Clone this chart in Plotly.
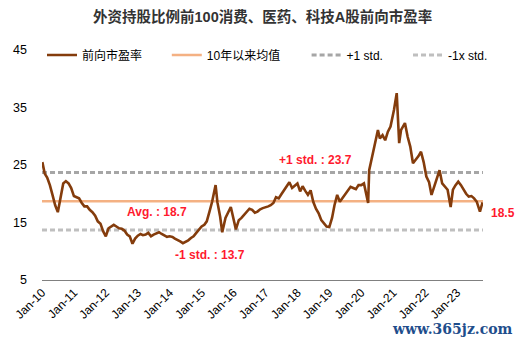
import plotly.graph_objects as go

dates = [
    "2010-01-05","2010-02-01","2010-03-01","2010-04-01","2010-05-01","2010-06-01","2010-07-01","2010-08-01","2010-09-01","2010-10-01","2010-11-01","2010-12-01",
    "2011-01-01","2011-02-01","2011-03-01","2011-04-01","2011-05-01","2011-06-01","2011-07-01","2011-08-01","2011-09-01","2011-10-01","2011-11-01","2011-12-01",
    "2012-01-01","2012-02-01","2012-03-01","2012-04-01","2012-05-01","2012-06-01","2012-07-01","2012-08-01","2012-09-01","2012-10-01","2012-11-01","2012-12-01",
    "2013-01-01","2013-02-01","2013-03-01","2013-04-01","2013-05-01","2013-06-01","2013-07-01","2013-08-01","2013-09-01","2013-10-01","2013-11-01","2013-12-01",
    "2014-01-01","2014-02-01","2014-03-01","2014-04-01","2014-05-01","2014-06-01","2014-07-01","2014-08-01","2014-09-01","2014-10-01","2014-11-01","2014-12-01",
    "2015-01-01","2015-02-01","2015-03-01","2015-04-01","2015-05-01","2015-06-10","2015-07-01","2015-08-01","2015-08-25","2015-10-01","2015-11-01","2015-12-01",
    "2016-01-28","2016-02-15","2016-03-01","2016-04-01","2016-05-01","2016-06-01","2016-07-01","2016-08-01","2016-09-01","2016-10-01","2016-11-01","2016-12-01",
    "2017-01-01","2017-02-01","2017-03-01","2017-04-01","2017-05-01","2017-06-01","2017-07-01","2017-08-01","2017-09-01","2017-10-01","2017-11-01","2017-12-01",
    "2018-01-01","2018-02-01","2018-03-01","2018-04-01","2018-05-01","2018-06-01","2018-07-01","2018-08-01","2018-09-01","2018-10-01","2018-11-01","2018-12-01",
    "2019-01-01","2019-02-01","2019-03-01","2019-04-01","2019-05-01","2019-06-01","2019-07-01","2019-08-01","2019-09-01","2019-10-01","2019-11-01","2019-12-01",
    "2020-01-01","2020-02-01","2020-03-20","2020-04-01","2020-05-01","2020-06-01","2020-07-10","2020-08-01","2020-09-01","2020-10-01","2020-11-01","2020-12-01",
    "2021-01-10","2021-02-10","2021-02-25","2021-03-10","2021-04-01","2021-05-15","2021-06-15","2021-07-15","2021-08-15","2021-09-15","2021-10-15","2021-11-15","2021-12-15",
    "2022-01-15","2022-02-15","2022-03-15","2022-04-15","2022-05-15","2022-06-15","2022-07-15","2022-08-15","2022-09-15","2022-10-20","2022-11-15","2022-12-15",
    "2023-01-15","2023-02-15","2023-03-15","2023-04-15","2023-05-15","2023-06-15","2023-07-15","2023-08-15","2023-09-20","2023-10-20",
]
pe = [
    25.5,23.5,22.8,21.5,19.8,18.0,16.8,19.5,21.8,22.2,21.8,21.0,
    19.6,19.4,19.2,18.4,17.8,17.8,17.2,16.8,16.2,15.2,14.8,13.5,
    12.6,14.0,14.3,14.6,14.3,14.0,13.9,13.6,12.9,12.6,11.3,12.2,
    12.7,13.0,12.8,12.9,13.2,12.6,12.9,13.1,13.3,13.0,12.8,12.5,
    12.6,12.5,12.2,12.0,11.7,11.4,11.6,11.9,12.3,12.6,13.2,13.8,
    14.3,14.6,15.2,16.9,18.6,21.5,18.5,16.0,13.3,15.8,16.8,17.7,
    13.8,14.5,15.4,15.8,16.3,16.8,17.4,17.2,16.7,16.9,17.3,17.5,
    17.6,17.8,18.0,18.4,19.4,19.2,19.9,20.6,21.4,22.0,21.0,21.4,
    21.8,20.4,21.3,20.5,19.8,20.6,18.6,17.4,16.6,15.4,14.9,14.3,
    14.2,15.8,18.0,19.8,18.6,19.3,20.0,20.6,21.2,21.0,20.8,21.5,
    21.5,21.8,18.4,24.1,26.4,28.5,31.1,29.6,30.2,29.3,30.8,31.7,
    34.6,37.5,33.0,28.8,31.1,32.3,29.9,28.2,25.3,25.9,26.5,27.3,25.5,
    23.0,22.0,19.8,21.2,22.5,24.1,21.8,21.2,20.7,17.7,20.7,21.5,
    22.1,21.5,20.7,20.0,19.5,19.6,19.2,18.6,16.9,18.5,
]

x_span = ["2010-01-01", "2023-10-25"]
avg_val = [18.7, 18.7]
plus_std = [23.7, 23.7]
minus_std = [13.7, 13.7]

tick_vals = ["2010-01-01","2011-01-01","2012-01-01","2013-01-01","2014-01-01","2015-01-01","2016-01-01",
             "2017-01-01","2018-01-01","2019-01-01","2020-01-01","2021-01-01","2022-01-01","2023-01-01"]
tick_text = ["Jan-10","Jan-11","Jan-12","Jan-13","Jan-14","Jan-15","Jan-16",
             "Jan-17","Jan-18","Jan-19","Jan-20","Jan-21","Jan-22","Jan-23"]

FONT = "Liberation Sans, Arial, Noto Sans CJK SC, sans-serif"
RED = "#FF1A2E"

fig = go.Figure()
fig.add_trace(go.Scatter(x=x_span, y=avg_val, mode="lines", name="10年以来均值",
                         line=dict(color="#F4B183", width=2.5), legend="legend2"))
fig.add_trace(go.Scatter(x=x_span, y=plus_std, mode="lines", name="+1 std.",
                         line=dict(color="#A6A6A6", width=3, dash="5px,3px"), legend="legend3"))
fig.add_trace(go.Scatter(x=x_span, y=minus_std, mode="lines", name="-1x std.",
                         line=dict(color="#BFBFBF", width=3, dash="5px,3px"), legend="legend4"))
fig.add_trace(go.Scatter(x=dates, y=pe, mode="lines", name="前向市盈率",
                         line=dict(color="#843C0C", width=2.6), legend="legend"))

leg_common = dict(orientation="h", xanchor="left", y=0.978, yanchor="middle",
                  font=dict(size=12, color="#000000"), bgcolor="rgba(0,0,0,0)",
                  itemwidth=30)

fig.update_layout(
    width=517, height=344,
    margin=dict(l=42, r=34, t=50, b=64),
    paper_bgcolor="white", plot_bgcolor="white",
    font=dict(family=FONT, size=12, color="#000000"),
    title=dict(text="<b>外资持股比例前100消费、医药、科技A股前向市盈率</b>",
               x=0.508, xanchor="center", y=1 - 17/344, yanchor="middle",
               font=dict(size=14.5, color="#333333")),
    showlegend=True,
    legend=dict(x=0.0, **leg_common),
    legend2=dict(x=0.283, **leg_common),
    legend3=dict(x=0.6, **leg_common),
    legend4=dict(x=0.83, **leg_common),
    xaxis=dict(type="date", range=x_span, tickvals=tick_vals, ticktext=tick_text,
               tickangle=-45, showgrid=False, zeroline=False, showline=True,
               linecolor="#808080", linewidth=1, ticks="", tickfont=dict(size=12)),
    yaxis=dict(range=[5, 45], tickvals=[5, 15, 25, 35, 45], showgrid=False,
               zeroline=False, showline=False, ticks="", ticklabelstandoff=14,
               tickfont=dict(size=12.5)),
)

ann = [
    dict(x="2013-08-10", y=16.8, text="<b>Avg. : 18.7</b>"),
    dict(x="2015-04-08", y=9.35, text="<b>-1 std. : 13.7</b>"),
    dict(x="2018-07-22", y=25.9, text="<b>+1 std. : 23.7</b>"),
]
for a in ann:
    fig.add_annotation(x=a["x"], y=a["y"], text=a["text"], showarrow=False,
                       xanchor="center", font=dict(size=12, color=RED, family=FONT))
fig.add_annotation(xref="paper", x=1.0136, xanchor="left", y=16.65, text="<b>18.5</b>",
                   showarrow=False, font=dict(size=12, color=RED, family=FONT))
fig.add_annotation(xref="paper", yref="paper", x=0.93, xanchor="center", y=-0.213,
                   yanchor="middle", text="<b>www.365jz.com</b>",
                   showarrow=False, font=dict(size=14, color="#1F4E8C",
                                              family="DejaVu Serif, Liberation Serif, serif"))

fig.write_html("out.html")
